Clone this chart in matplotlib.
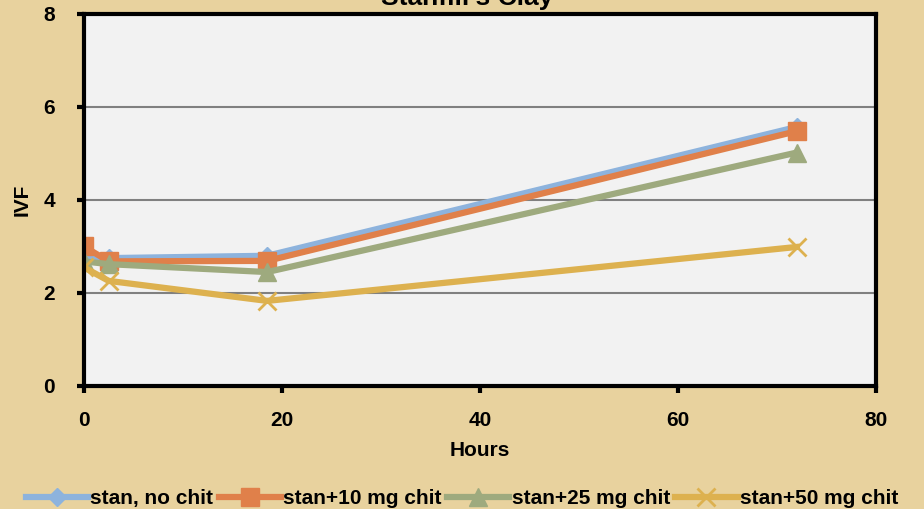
import matplotlib
matplotlib.use("Agg")
import matplotlib.pyplot as plt

hours = [0, 2.5, 18.5, 72]
no_chit = [2.8, 2.75, 2.8, 5.57]
chit10 = [3.0, 2.68, 2.69, 5.48]
chit25 = [2.68, 2.62, 2.45, 5.02]
chit50 = [2.55, 2.26, 1.83, 2.99]

series = [
    ("stan, no chit", no_chit, "#8DB3DD", "D", 9),
    ("stan+10 mg chit", chit10, "#E0804A", "s", 13),
    ("stan+25 mg chit", chit25, "#9EAA7E", "^", 13),
    ("stan+50 mg chit", chit50, "#DDB14F", "x", 13),
]

plt.rcParams["font.family"] = ["Liberation Sans", "DejaVu Sans"]
plt.rcParams["font.weight"] = "bold"

fig = plt.figure(figsize=(9.24, 5.09), dpi=100, facecolor="#E8D29E")
ax = fig.add_axes([0.0909, 0.2417, 0.948 - 0.0909, 0.7308])
ax.set_facecolor("#F2F2F2")

for label, vals, color, marker, ms in series:
    ax.plot(hours, vals, color=color, lw=4.5, marker=marker, ms=ms,
            mec=color, mew=2 if marker == "x" else 1, label=label)

ax.set_xlim(0, 80)
ax.set_ylim(0, 8)
ax.set_xticks([0, 20, 40, 60, 80])
ax.set_yticks([0, 2, 4, 6, 8])
ax.yaxis.grid(True, color="#808080", lw=1.5)
ax.set_axisbelow(True)
for s in ax.spines.values():
    s.set_linewidth(3)
ax.tick_params(width=3, length=5, labelsize=15, direction="out")
ax.tick_params(axis="y", pad=16)
ax.tick_params(axis="x", pad=13)
ax.set_xlabel("Hours", fontsize=15, fontweight="bold", labelpad=8)
ax.set_ylabel("IVF", fontsize=15, fontweight="bold", labelpad=8)

# title sits mostly above the top edge
fig.text(0.506, 1 - 5 / 509, "Stanfill's Clay", ha="center", va="baseline",
         fontsize=19, fontweight="bold")

fig.legend(loc="lower center", bbox_to_anchor=(0.5, -0.035), ncol=4,
           frameon=False, handlelength=3.0, columnspacing=0.25,
           handletextpad=0.1, prop={"weight": "bold", "size": 15})

fig.savefig("out.png", dpi=100, facecolor=fig.get_facecolor())
